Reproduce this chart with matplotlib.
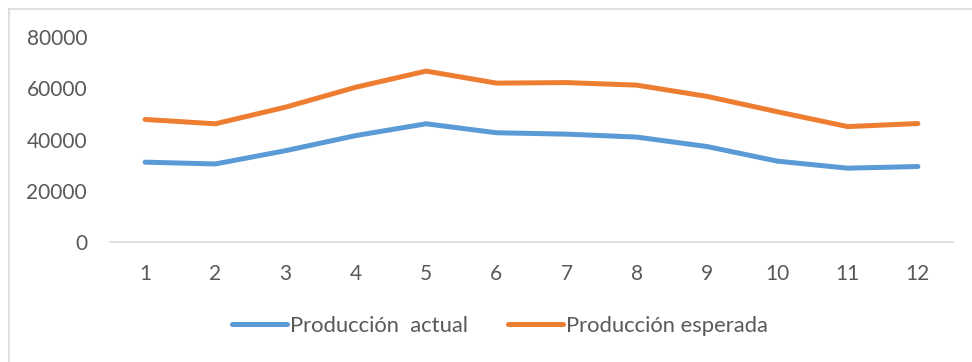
import numpy as np
import matplotlib
matplotlib.use('Agg')
import matplotlib.pyplot as plt
from matplotlib.lines import Line2D

meses = list(range(1, 13))
actual = [31200, 30500, 35700, 41600, 46200, 42700, 42150, 41000, 37300, 31600, 28850, 29500]
esperada = [47900, 46200, 52700, 60500, 66800, 62100, 62300, 61300, 56900, 50900, 45100, 46300]
yticks = [0, 20000, 40000, 60000, 80000]

azul = '#5B9BD5'
naranja = '#ED7D31'
gris = '#595959'

plt.rcParams['font.family'] = ['Lato', 'DejaVu Sans']

fig = plt.figure(figsize=(9.72, 3.62), dpi=100)
ax = fig.add_axes([110/972, 1 - 242/362, (953 - 110)/972, (242 - 37.3)/362])

ax.plot(meses, actual, color=azul, lw=3.6, solid_capstyle='round', solid_joinstyle='round',
        label='Producción  actual')
ax.plot(meses, esperada, color=naranja, lw=3.6, solid_capstyle='round', solid_joinstyle='round',
        label='Producción esperada')

ax.set_xlim(0.5, 12.5)
ax.set_ylim(0, 80000)
ax.set_xticks(meses)
ax.set_yticks(yticks)
ax.set_yticklabels([str(v) for v in yticks])
ax.tick_params(axis='both', length=0, labelsize=15, colors=gris)
ax.tick_params(axis='x', pad=16)
ax.tick_params(axis='y', pad=16.5)

for s in ['top', 'right', 'left']:
    ax.spines[s].set_visible(False)
ax.spines['bottom'].set_color('#D9D9D9')
ax.spines['bottom'].set_linewidth(1.2)

leg = fig.legend(loc='center', bbox_to_anchor=(500/972, 1 - 326/362), ncol=2, frameon=False,
                 fontsize=15.8, handlelength=2.5, handletextpad=0.15, columnspacing=1.8,
                 labelcolor=gris)

# chart border
fig.add_artist(Line2D([9/972, 1], [1 - 9/362, 1 - 9/362], color='#D9D9D9', lw=1.2))
fig.add_artist(Line2D([9/972, 9/972], [0, 1 - 9/362], color='#D9D9D9', lw=1.2))

fig.savefig('out.png', dpi=100)
